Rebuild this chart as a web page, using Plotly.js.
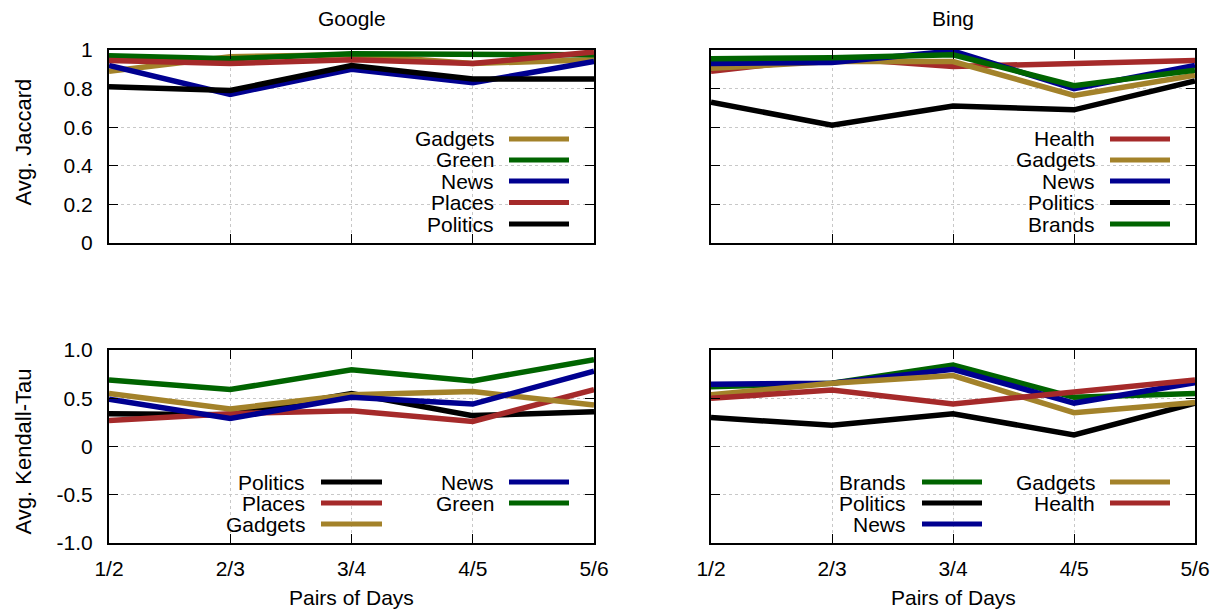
<!DOCTYPE html>
<html>
<head>
<meta charset="utf-8">
<script src="https://cdn.plot.ly/plotly-3.0.1.min.js"></script>
<style>html,body{margin:0;padding:0;background:#fff;}#chart{width:1221px;height:612px;}</style>
</head>
<body>
<div id="chart"></div>
<script>
// ---- data ----
const days = ['1/2', '2/3', '3/4', '4/5', '5/6'];

// Google – Avg. Jaccard
const gjGadgets  = [0.89, 0.965, 0.975, 0.93, 0.95];
const gjGreen    = [0.97, 0.955, 0.98, 0.975, 0.975];
const gjNews     = [0.92, 0.77, 0.90, 0.83, 0.94];
const gjPlaces   = [0.945, 0.93, 0.95, 0.93, 0.99];
const gjPolitics = [0.81, 0.79, 0.92, 0.85, 0.85];

// Bing – Avg. Jaccard
const bjHealth   = [0.89, 0.96, 0.915, 0.93, 0.945];
const bjGadgets  = [0.905, 0.94, 0.94, 0.765, 0.87];
const bjNews     = [0.93, 0.935, 0.995, 0.80, 0.92];
const bjPolitics = [0.73, 0.61, 0.71, 0.69, 0.84];
const bjBrands   = [0.955, 0.96, 0.975, 0.815, 0.895];

// Google – Avg. Kendall-Tau
const gkPolitics = [0.34, 0.33, 0.55, 0.32, 0.36];
const gkPlaces   = [0.27, 0.34, 0.37, 0.26, 0.59];
const gkGadgets  = [0.55, 0.39, 0.535, 0.57, 0.43];
const gkNews     = [0.49, 0.29, 0.51, 0.44, 0.78];
const gkGreen    = [0.69, 0.59, 0.795, 0.68, 0.90];

// Bing – Avg. Kendall-Tau
const bkBrands   = [0.62, 0.655, 0.845, 0.51, 0.55];
const bkPolitics = [0.30, 0.22, 0.34, 0.12, 0.45];
const bkNews     = [0.645, 0.655, 0.80, 0.45, 0.66];
const bkGadgets  = [0.535, 0.655, 0.735, 0.35, 0.455];
const bkHealth   = [0.50, 0.585, 0.44, 0.57, 0.69];

const jaccardTicks = [0, 0.2, 0.4, 0.6, 0.8, 1];
const jaccardTickText = ['0', '0.2', '0.4', '0.6', '0.8', '1'];
const kendallTicks = [-1, -0.5, 0, 0.5, 1];
const kendallTickText = ['-1.0', '-0.5', '0', '0.5', '1.0'];

// ---- styling ----
const C = {
  gold: '#A3822A', green: '#006400', blue: '#000090', red: '#A52A2A', black: '#000000'
};
const FONT = 'Liberation Sans, Arial, Helvetica, sans-serif';
const FS = 21;
const FS_YT = 22;
const W = 1221, H = 612;
const px = v => v / W;
const py = v => 1 - v / H;

const panels = [
  { xa: 'x', ya: 'y', series: [
      ['Gadgets', gjGadgets, C.gold], ['Green', gjGreen, C.green], ['News', gjNews, C.blue],
      ['Places', gjPlaces, C.red], ['Politics', gjPolitics, C.black]],
    legend: [{ textRight: 496, sample: [509, 569], rows: [139, 160, 181, 202.5, 224], idx: [0,1,2,3,4] }],
    box: [393, 128, 594, 243] },
  { xa: 'x2', ya: 'y2', series: [
      ['Health', bjHealth, C.red], ['Gadgets', bjGadgets, C.gold], ['News', bjNews, C.blue],
      ['Politics', bjPolitics, C.black], ['Brands', bjBrands, C.green]],
    legend: [{ textRight: 1097, sample: [1110, 1170], rows: [139, 160, 181, 202.5, 224], idx: [0,1,2,3,4] }],
    box: [993, 128, 1195, 243] },
  { xa: 'x3', ya: 'y3', series: [
      ['Politics', gkPolitics, C.black], ['Places', gkPlaces, C.red], ['Gadgets', gkGadgets, C.gold],
      ['News', gkNews, C.blue], ['Green', gkGreen, C.green]],
    legend: [{ textRight: 307, sample: [321, 382], rows: [482, 503, 524], idx: [0,1,2] },
             { textRight: 496, sample: [509, 569], rows: [482, 503], idx: [3,4] }],
    box: [207, 470, 594, 543] },
  { xa: 'x4', ya: 'y4', series: [
      ['Brands', bkBrands, C.green], ['Politics', bkPolitics, C.black], ['News', bkNews, C.blue],
      ['Gadgets', bkGadgets, C.gold], ['Health', bkHealth, C.red]],
    legend: [{ textRight: 908, sample: [922, 982], rows: [482, 503, 524], idx: [0,1,2] },
             { textRight: 1097, sample: [1110, 1170], rows: [482, 503], idx: [3,4] }],
    box: [807, 470, 1195, 543] }
];

const traces = [];
const shapes = [];
const annotations = [];

panels.forEach(p => {
  p.series.forEach(s => {
    traces.push({
      type: 'scatter', mode: 'lines', x: days, y: s[1], name: s[0],
      xaxis: p.xa, yaxis: p.ya,
      line: { color: s[2], width: 5.5, shape: 'linear' },
      showlegend: false, hoverinfo: 'skip'
    });
  });
  shapes.push({
    type: 'rect', xref: 'paper', yref: 'paper', layer: 'between',
    x0: px(p.box[0]), x1: px(p.box[2] - 1), y0: py(p.box[3] - 1), y1: py(p.box[1]),
    fillcolor: '#ffffff', line: { width: 0 }
  });
  p.legend.forEach(col => {
    col.idx.forEach((si, r) => {
      const s = p.series[si];
      const yy = col.rows[r];
      annotations.push({
        xref: 'paper', yref: 'paper', x: px(col.textRight), y: py(yy),
        xanchor: 'right', yanchor: 'middle', showarrow: false, text: s[0],
        font: { family: FONT, size: FS, color: '#000' }
      });
      shapes.push({
        type: 'line', xref: 'paper', yref: 'paper', layer: 'above',
        x0: px(col.sample[0]), x1: px(col.sample[1]), y0: py(yy), y1: py(yy),
        line: { color: s[2], width: 5 }
      });
    });
  });
});

const titleTexts = [
  ['Google', 351.5, 18, 0, FS], ['Bing', 953, 18, 0, FS],
  ['Pairs of Days', 351.5, 597, 0, FS], ['Pairs of Days', 953, 597, 0, FS],
  ['Avg. Jaccard', 22.5, 142, -90, FS_YT], ['Avg. Kendall-Tau', 22.5, 452, -90, FS_YT]
];
titleTexts.forEach(t => annotations.push({
  xref: 'paper', yref: 'paper', x: px(t[1]), y: py(t[2]), xanchor: 'center', yanchor: 'middle',
  showarrow: false, text: t[0], textangle: t[3], font: { family: FONT, size: t[4], color: '#000' }
}));

const xDomL = [px(109), px(594)];
const xDomR = [px(711), px(1195)];
const yDomT = [py(243), py(50)];
const yDomB = [py(543), py(350)];

const GRID = '#c8c8c8';
function xAxis(domain, anchor, labels) {
  return {
    domain: domain, anchor: anchor, type: 'category', range: [0, 4],
    showline: true, linecolor: '#000', linewidth: 2, mirror: 'allticks',
    ticks: 'inside', ticklen: 9, tickwidth: 1, tickcolor: '#000',
    showgrid: true, gridcolor: GRID, gridwidth: 1, griddash: 'dot',
    zeroline: false, showticklabels: labels, ticklabelstandoff: 6,
    tickfont: { family: FONT, size: FS, color: '#000' }, fixedrange: true
  };
}
function yAxis(domain, anchor, range, tv, tt, labels) {
  return {
    domain: domain, anchor: anchor, range: range, tickmode: 'array', tickvals: tv, ticktext: tt,
    showline: true, linecolor: '#000', linewidth: 2, mirror: 'allticks',
    ticks: 'inside', ticklen: 9, tickwidth: 1, tickcolor: '#000',
    showgrid: true, gridcolor: GRID, gridwidth: 1, griddash: 'dot',
    zeroline: false, showticklabels: labels, ticklabelstandoff: 10,
    tickfont: { family: FONT, size: FS, color: '#000' }, fixedrange: true
  };
}

const layout = {
  width: W, height: H, margin: { l: 0, r: 0, t: 0, b: 0 },
  paper_bgcolor: '#fff', plot_bgcolor: '#fff', showlegend: false,
  font: { family: FONT, size: FS, color: '#000' },
  xaxis: xAxis(xDomL, 'y', false),
  yaxis: yAxis(yDomT, 'x', [0, 1], jaccardTicks, jaccardTickText, true),
  xaxis2: xAxis(xDomR, 'y2', false),
  yaxis2: yAxis(yDomT, 'x2', [0, 1], jaccardTicks, jaccardTickText, false),
  xaxis3: xAxis(xDomL, 'y3', true),
  yaxis3: yAxis(yDomB, 'x3', [-1, 1], kendallTicks, kendallTickText, true),
  xaxis4: xAxis(xDomR, 'y4', true),
  yaxis4: yAxis(yDomB, 'x4', [-1, 1], kendallTicks, kendallTickText, false),
  shapes: shapes, annotations: annotations
};

Plotly.newPlot('chart', traces, layout, { staticPlot: true, displayModeBar: false });
</script>
</body>
</html>
